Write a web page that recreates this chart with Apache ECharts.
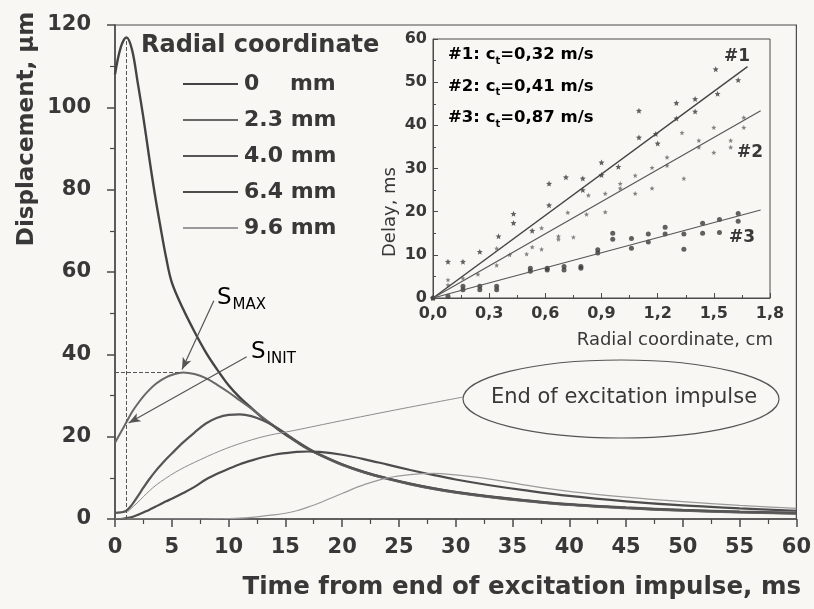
<!DOCTYPE html>
<html>
<head>
<meta charset="utf-8">
<script src="https://cdn.jsdelivr.net/npm/echarts@6/dist/echarts.min.js"></script>
<style>
  html, body { margin: 0; padding: 0; background: #f8f7f4; }
  #chart { width: 814px; height: 609px; }
</style>
</head>
<body>
<div id="chart"></div>
<script>
// main plot: displacement vs time, one array per radial coordinate
const timeMs = [0, 0.5, 1, 1.5, 2, 2.5, 3, 3.5, 4, 4.5, 5, 6, 7, 8, 9, 10, 11, 12, 13, 14, 15, 16, 17, 18, 20, 22, 24, 26, 28, 30, 33, 36, 40, 45, 50, 55, 60];
const disp0  = [108, 114.5, 117, 114, 106, 97.5, 88, 79, 71, 63.5, 57.5, 51, 45.5, 40.5, 36.3, 32.5, 29.5, 27, 24.5, 22.5, 20.5, 18.7, 17, 15.6, 13.2, 11.3, 9.8, 8.5, 7.4, 6.5, 5.4, 4.5, 3.5, 2.7, 2.1, 1.7, 1.4];
const disp23 = [18.5, 21, 23.5, 26, 28, 29.8, 31.3, 32.6, 33.6, 34.4, 35, 35.6, 35.2, 34.2, 32.6, 30.8, 28.8, 26.8, 24.7, 22.6, 20.7, 18.8, 17.1, 15.6, 13.1, 11.2, 9.7, 8.4, 7.3, 6.4, 5.3, 4.4, 3.4, 2.6, 2.0, 1.6, 1.3];
const disp40 = [1.5, 1.6, 2, 3.5, 5.5, 7.6, 9.6, 11.4, 13, 14.5, 15.9, 18.6, 21, 23.2, 24.6, 25.3, 25.4, 25, 24, 22.6, 20.8, 18.9, 17.2, 15.7, 13.3, 11.4, 9.9, 8.6, 7.5, 6.6, 5.5, 4.6, 3.6, 2.8, 2.2, 1.8, 1.5];
const disp64 = [0, 0, 0.2, 0.5, 1, 1.6, 2.2, 2.9, 3.6, 4.3, 4.9, 6.3, 7.8, 9.6, 11, 12.2, 13.3, 14.2, 15, 15.6, 16, 16.3, 16.4, 16.3, 15.6, 14.5, 13.2, 11.9, 10.7, 9.6, 8.2, 7, 5.6, 4.3, 3.3, 2.6, 2.0];
const disp96 = [0, 0, 0, 0, 0, 0, 0, 0, 0, 0, 0, 0, 0, 0, 0.05, 0.1, 0.2, 0.4, 0.7, 1.0, 1.4, 2.0, 2.9, 3.9, 6.2, 8.4, 10, 10.8, 11.1, 10.7, 9.7, 8.3, 6.7, 5.3, 4.2, 3.3, 2.6];
const seriesNames = ['0 mm', '2.3 mm', '4.0 mm', '6.4 mm', '9.6 mm'];

// leader from the "End of excitation impulse" ellipse
const leaderPts = [[1.1, 1.7], [1.6, 3], [4, 9], [7.5, 14.4], [12, 19.2], [16.3, 21.8], [23.6, 25.9], [30.6, 29.6]];

// inset: delay vs radial coordinate
const delay1 = [[0, 0], [0.08, 8.4], [0.16, 8.4], [0.25, 10.7], [0.35, 14.3], [0.43, 19.5], [0.43, 17.4], [0.53, 15.6], [0.62, 26.5], [0.62, 21.5], [0.71, 28.0], [0.80, 27.7], [0.80, 25.0], [0.90, 31.4], [0.90, 28.5], [0.99, 30.4], [1.10, 43.4], [1.10, 37.2], [1.19, 38.0], [1.20, 35.8], [1.30, 45.2], [1.30, 41.6], [1.40, 46.1], [1.40, 43.2], [1.51, 53.0], [1.52, 47.3], [1.63, 50.5]];
const delay2 = [[0, 0], [0.08, 4.2], [0.08, 3.0], [0.16, 4.6], [0.24, 5.5], [0.34, 7.6], [0.34, 11.5], [0.41, 10.0], [0.50, 10.2], [0.53, 11.8], [0.58, 11.3], [0.58, 16.2], [0.67, 14.3], [0.67, 13.6], [0.72, 19.8], [0.75, 14.1], [0.82, 19.4], [0.83, 23.8], [0.92, 24.2], [0.92, 19.9], [1.00, 26.5], [1.00, 25.4], [1.08, 28.4], [1.08, 24.2], [1.17, 30.2], [1.17, 25.4], [1.25, 32.6], [1.25, 30.7], [1.33, 38.3], [1.34, 27.7], [1.42, 36.5], [1.42, 34.9], [1.50, 39.5], [1.50, 33.7], [1.59, 36.5], [1.59, 34.9], [1.66, 41.8], [1.66, 39.5]];
const delay3 = [[0, 0], [0.08, 0.4], [0.16, 2.7], [0.16, 1.9], [0.25, 2.7], [0.25, 1.9], [0.34, 2.7], [0.34, 1.9], [0.52, 6.9], [0.52, 6.2], [0.61, 6.9], [0.61, 6.5], [0.70, 7.3], [0.70, 6.5], [0.79, 7.3], [0.79, 6.9], [0.88, 11.2], [0.88, 10.4], [0.96, 15.0], [0.96, 13.6], [1.06, 13.8], [1.06, 11.5], [1.15, 14.8], [1.15, 13.0], [1.24, 16.4], [1.24, 14.8], [1.34, 14.8], [1.34, 11.3], [1.44, 17.3], [1.44, 15.0], [1.53, 18.2], [1.53, 15.2], [1.63, 19.6], [1.63, 17.8]];
const fit1 = [[0, 0], [1.68, 53.6]];
const fit2 = [[0, 0], [1.75, 43.4]];
const fit3 = [[0, 0], [1.75, 20.4]];

const WIDE = '"DejaVu Sans", sans-serif';
const INK = '#383838';
const LINE = '#4a4a4a';
const STAR = 'path://M0,-10L2.6,-3.6L9.5,-3.1L4.2,1.4L5.9,8.1L0,4.4L-5.9,8.1L-4.2,1.4L-9.5,-3.1L-2.6,-3.6Z';

const chart = echarts.init(document.getElementById('chart'));

const curveStyles = [
  { color: '#444444', width: 2.4 },
  { color: '#686868', width: 2.0 },
  { color: '#555555', width: 2.2 },
  { color: '#4c4c4c', width: 2.2 },
  { color: '#9a9a9a', width: 1.2 },
];
const curves = [disp0, disp23, disp40, disp64, disp96].map((vals, k) => ({
  name: seriesNames[k],
  type: 'line',
  xAxisIndex: 0,
  yAxisIndex: 0,
  smooth: 0.35,
  symbol: 'none',
  lineStyle: curveStyles[k],
  itemStyle: { color: curveStyles[k].color },
  data: timeMs.map((t, i) => [t, vals[i]]),
}));

const mainAxisLabel = { color: INK, fontFamily: WIDE, fontSize: 21, fontWeight: 'bold' };
const insetAxisLabel = { color: INK, fontFamily: WIDE, fontSize: 16, fontWeight: 'bold' };

const option = {
  backgroundColor: '#f8f7f4',
  animation: false,
  grid: [
    { left: 115, right: 17, top: 25, bottom: 90, show: true, borderColor: LINE, borderWidth: 1.2 },
    { left: 433, top: 39, width: 337, height: 259, show: true, borderColor: LINE, borderWidth: 1 },
  ],
  xAxis: [
    {
      gridIndex: 0, type: 'value', min: 0, max: 60, interval: 5,
      axisLine: { lineStyle: { color: LINE, width: 1.5 } },
      axisTick: { length: 8, lineStyle: { color: LINE, width: 1.5 } },
      minorTick: { show: true, splitNumber: 2, length: 5, lineStyle: { color: LINE, width: 1.2 } },
      splitLine: { show: false },
      axisLabel: Object.assign({ margin: 18 }, mainAxisLabel),
    },
    {
      gridIndex: 1, type: 'value', min: 0, max: 1.8, interval: 0.3,
      axisLine: { lineStyle: { color: LINE, width: 1 } },
      axisTick: { inside: true, length: 5, lineStyle: { color: LINE } },
      minorTick: { show: true, splitNumber: 2, length: 3, lineStyle: { color: LINE } },
      splitLine: { show: false },
      axisLabel: Object.assign({ margin: 8, formatter: v => v.toFixed(1).replace('.', ',') }, insetAxisLabel),
    },
  ],
  yAxis: [
    {
      gridIndex: 0, type: 'value', min: 0, max: 120, interval: 20,
      axisLine: { show: true, lineStyle: { color: LINE, width: 1.5 } },
      axisTick: { show: true, length: 8, lineStyle: { color: LINE, width: 1.5 } },
      minorTick: { show: true, splitNumber: 2, length: 5, lineStyle: { color: LINE, width: 1.2 } },
      splitLine: { show: false },
      axisLabel: Object.assign({ margin: 24 }, mainAxisLabel),
    },
    {
      gridIndex: 1, type: 'value', min: 0, max: 60, interval: 10,
      axisLine: { show: true, lineStyle: { color: LINE, width: 1 } },
      axisTick: { show: true, inside: true, length: 5, lineStyle: { color: LINE } },
      minorTick: { show: true, splitNumber: 2, length: 3, lineStyle: { color: LINE } },
      splitLine: { show: false },
      axisLabel: Object.assign({ margin: 6 }, insetAxisLabel),
    },
  ],
  legend: {
    data: seriesNames,
    orient: 'vertical',
    left: 177,
    top: 68,
    itemWidth: 55,
    itemHeight: 22,
    itemGap: 14,
    selectedMode: false,
    itemStyle: { opacity: 0 },
    textStyle: { color: INK, fontFamily: WIDE, fontSize: 22, fontWeight: 'bold', padding: [0, 0, 0, 1] },
    formatter: n => (n === '0 mm' ? '0    mm' : n),
  },
  series: curves.concat([
    {
      name: 'leader',
      type: 'line',
      xAxisIndex: 0, yAxisIndex: 0,
      smooth: 0.4,
      symbol: 'none',
      lineStyle: { color: '#8c8c8c', width: 1 },
      data: leaderPts,
      markLine: {
        silent: true,
        label: { show: false },
        symbol: ['none', 'none'],
        lineStyle: { color: '#555', width: 1, type: 'dashed' },
        data: [
          [{ coord: [1, 0] }, { coord: [1, 117] }],
          [{ coord: [0, 35.6] }, { coord: [5.8, 35.6] }],
          [
            { coord: [8.7, 53], symbol: 'none', lineStyle: { type: 'solid', color: '#555', width: 1.2 } },
            { coord: [5.9, 36.3], symbol: 'arrow', symbolSize: [7, 12] },
          ],
          [
            { coord: [11.6, 39.4], symbol: 'none', lineStyle: { type: 'solid', color: '#555', width: 1.2 } },
            { coord: [1.2, 23.3], symbol: 'arrow', symbolSize: [7, 12] },
          ],
        ],
      },
    },
    { type: 'line', xAxisIndex: 1, yAxisIndex: 1, symbol: 'none', lineStyle: { color: '#444', width: 1.4 }, data: fit1 },
    { type: 'line', xAxisIndex: 1, yAxisIndex: 1, symbol: 'none', lineStyle: { color: '#555', width: 1.1 }, data: fit2 },
    { type: 'line', xAxisIndex: 1, yAxisIndex: 1, symbol: 'none', lineStyle: { color: '#555', width: 1.1 }, data: fit3 },
    { type: 'scatter', xAxisIndex: 1, yAxisIndex: 1, symbol: STAR, symbolSize: 6, itemStyle: { color: '#3a3a3a' }, data: delay1 },
    { type: 'scatter', xAxisIndex: 1, yAxisIndex: 1, symbol: STAR, symbolSize: 5, itemStyle: { color: '#666666' }, data: delay2 },
    { type: 'scatter', xAxisIndex: 1, yAxisIndex: 1, symbol: 'circle', symbolSize: 5, itemStyle: { color: '#3a3a3a' }, data: delay3 },
  ]),
  graphic: [
    { type: 'text', left: 141, top: 34, style: { text: 'Radial coordinate', fill: INK, font: 'bold 24px ' + WIDE } },
    { type: 'text', x: 27, y: 129, rotation: Math.PI / 2, style: { text: 'Displacement, μm', fill: INK, font: 'bold 23px ' + WIDE, align: 'center', verticalAlign: 'middle' } },
    { type: 'text', x: 801, y: 588, style: { text: 'Time from end of excitation impulse, ms', fill: INK, font: 'bold 24.5px ' + WIDE, align: 'right', verticalAlign: 'middle' } },
    {
      type: 'text', x: 217, y: 298,
      style: {
        text: '{s|S}{b|MAX}', align: 'left', verticalAlign: 'middle',
        rich: {
          s: { fontSize: 23, fontFamily: WIDE, color: INK },
          b: { fontSize: 15, fontFamily: WIDE, color: INK, padding: [15, 0, 0, 1] },
        },
      },
    },
    {
      type: 'text', x: 251, y: 352,
      style: {
        text: '{s|S}{b|INIT}', align: 'left', verticalAlign: 'middle',
        rich: {
          s: { fontSize: 23, fontFamily: WIDE, color: INK },
          b: { fontSize: 15, fontFamily: WIDE, color: INK, padding: [15, 0, 0, 1] },
        },
      },
    },
    { type: 'ellipse', shape: { cx: 621, cy: 399, rx: 158, ry: 39 }, style: { fill: 'none', stroke: '#555', lineWidth: 1.2 } },
    { type: 'text', x: 624, y: 398, style: { text: 'End of excitation impulse', fill: INK, font: '21px ' + WIDE, align: 'center', verticalAlign: 'middle' } },
    { type: 'text', x: 390, y: 212, rotation: Math.PI / 2, style: { text: 'Delay, ms', fill: INK, font: '18px ' + WIDE, align: 'center', verticalAlign: 'middle' } },
    { type: 'text', x: 773, y: 340, style: { text: 'Radial coordinate, cm', fill: INK, font: '18px ' + WIDE, align: 'right', verticalAlign: 'middle' } },
  ].concat(['#1: c|=0,32 m/s', '#2: c|=0,41 m/s', '#3: c|=0,87 m/s'].map((s, i) => {
    const parts = s.split('|');
    return {
      type: 'text', x: 448, y: 55 + i * 31.5,
      style: {
        text: '{a|' + parts[0] + '}{b|t}{a|' + parts[1] + '}', align: 'left', verticalAlign: 'middle',
        rich: {
          a: { fontSize: 16.5, fontFamily: WIDE, fontWeight: 'bold', color: INK },
          b: { fontSize: 10, fontFamily: WIDE, fontWeight: 'bold', color: INK, padding: [12, 0, 0, 0] },
        },
      },
    };
  })).concat([['#1', 737, 57], ['#2', 750, 153], ['#3', 742, 238]].map(d => ({
    type: 'text', x: d[1], y: d[2],
    style: { text: d[0], fill: INK, font: 'bold 17px ' + WIDE, align: 'center', verticalAlign: 'middle' },
  }))),
};

chart.setOption(option);
</script>
</body>
</html>
